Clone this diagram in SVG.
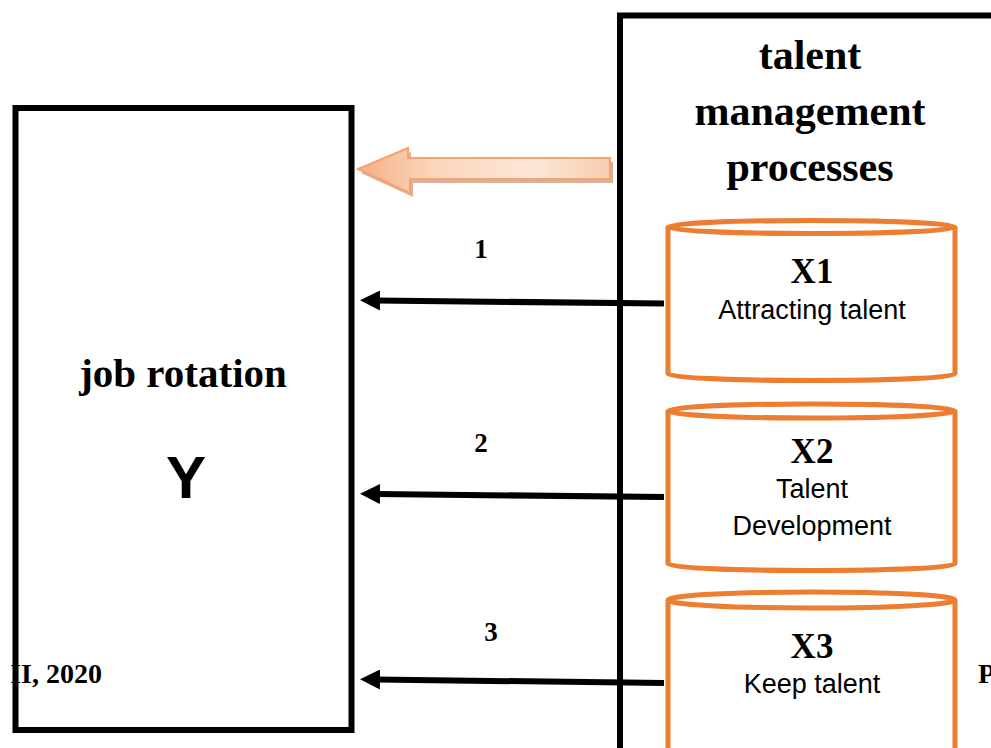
<svg xmlns="http://www.w3.org/2000/svg" width="991" height="748" viewBox="0 0 991 748">
<style>
.box{fill:#fff;stroke:#000;stroke-width:6}
.cyl{fill:#fff;stroke:#ED7D31;stroke-width:5}
.conn{stroke:#000;stroke-width:6;fill:none;marker-end:url(#ah)}
.ser{font-family:"Liberation Serif","Times New Roman",serif;font-weight:bold;fill:#000}
.sans{font-family:"Liberation Sans",Arial,sans-serif;fill:#000}
</style>
<defs>
<marker id="ah" markerUnits="userSpaceOnUse" markerWidth="20" markerHeight="20" refX="4" refY="10" orient="auto">
<path d="M0,0 L20,10 L0,20 z" fill="#000"/>
</marker>
<linearGradient id="bg" x1="0" y1="0" x2="1" y2="0">
<stop offset="0" stop-color="#F5B084"/>
<stop offset="0.3" stop-color="#FAD5BC"/>
<stop offset="0.7" stop-color="#FCE6D8"/>
<stop offset="1" stop-color="#F8CDB0"/>
</linearGradient>
</defs>
<rect width="991" height="748" fill="#fff"/>

<g id="node-y">
<rect class="box" x="15.5" y="108" width="336" height="622"/>
<text class="ser" x="183" y="387" font-size="41" text-anchor="middle">job rotation</text>
<text class="sans" x="186" y="498" font-size="60" font-weight="bold" text-anchor="middle">Y</text>
</g>

<g id="node-tm">
<rect class="box" x="620" y="15.5" width="420" height="800"/>
<text class="ser" x="810" y="69" font-size="42" text-anchor="middle">talent</text>
<text class="ser" x="810" y="125" font-size="42" text-anchor="middle">management</text>
<text class="ser" x="810" y="181" font-size="42" text-anchor="middle">processes</text>
</g>

<g id="node-x1">
<path class="cyl" d="M668,227 L668,374 A143.5,6.5 0 0 0 955,374 L955,227"/>
<ellipse class="cyl" cx="811.5" cy="227" rx="143.5" ry="6.5"/>
<text class="ser" x="812" y="283" font-size="35" text-anchor="middle">X1</text>
<text class="sans" x="812" y="319" font-size="27" text-anchor="middle">Attracting talent</text>
</g>

<g id="node-x2">
<path class="cyl" d="M668,411 L668,564 A143.5,6.5 0 0 0 955,564 L955,411"/>
<ellipse class="cyl" cx="811.5" cy="411" rx="143.5" ry="7"/>
<text class="ser" x="812" y="463" font-size="35" text-anchor="middle">X2</text>
<text class="sans" x="812" y="498" font-size="27" text-anchor="middle">Talent</text>
<text class="sans" x="812" y="535" font-size="27" text-anchor="middle">Development</text>
</g>

<g id="node-x3">
<path class="cyl" d="M668,600 L668,760 M955,760 L955,600"/>
<ellipse class="cyl" cx="811.5" cy="600" rx="143.5" ry="8"/>
<text class="ser" x="812" y="658" font-size="35" text-anchor="middle">X3</text>
<text class="sans" x="812" y="693" font-size="27" text-anchor="middle">Keep talent</text>
</g>

<g id="block-arrow">
<path d="M358,169 L408,148 L408,158 L610,158 L610,179 L410,179 L410,193 Z" fill="#C9977A" opacity="0.75" transform="translate(3,4)"/>
<path d="M358,169 L408,148 L408,158 L610,158 L610,179 L410,179 L410,193 Z" fill="url(#bg)" stroke="#F4A470" stroke-width="2"/>
</g>

<g id="connectors">
<line class="conn" x1="664" y1="303.5" x2="376" y2="300.5"/>
<line class="conn" x1="664" y1="497" x2="376" y2="494"/>
<line class="conn" x1="664" y1="683" x2="376" y2="679.5"/>
<text class="ser" x="481" y="258" font-size="27" text-anchor="middle">1</text>
<text class="ser" x="481" y="452" font-size="27" text-anchor="middle">2</text>
<text class="ser" x="491" y="641" font-size="27" text-anchor="middle">3</text>
</g>

<g id="captions">
<text class="ser" x="102" y="683" font-size="28" text-anchor="end">II, 2020</text>
<text class="ser" x="978" y="683" font-size="28">P</text>
</g>
</svg>
